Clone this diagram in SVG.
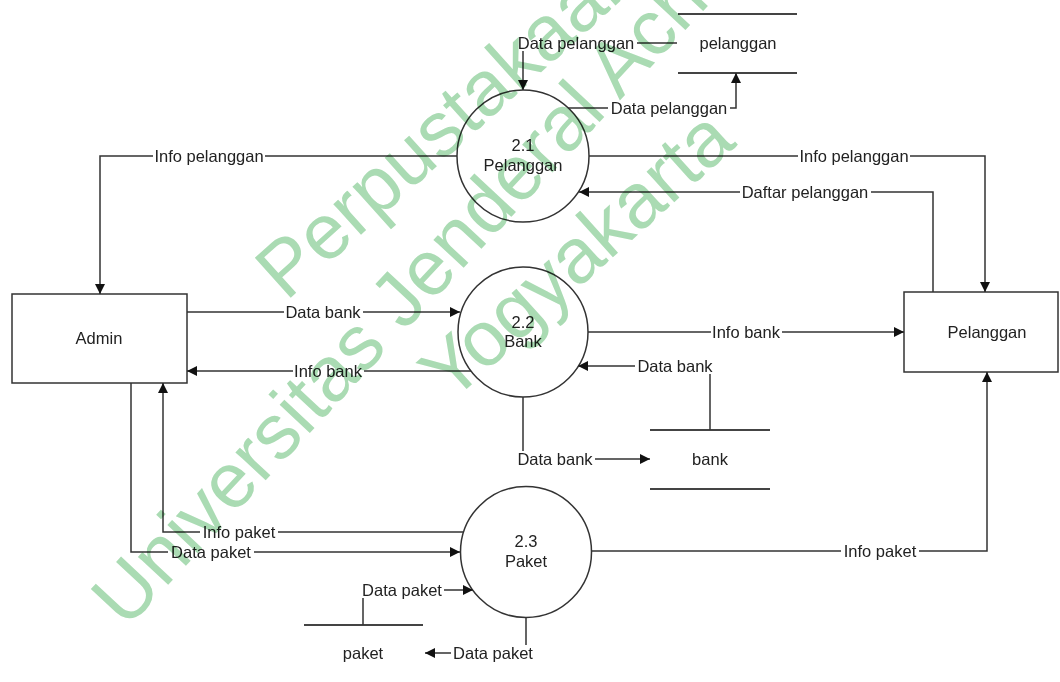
<svg xmlns="http://www.w3.org/2000/svg" width="1060" height="682" viewBox="0 0 1060 682">
  <defs>
    <style>
      .ln { fill: none; stroke: #333; stroke-width: 1.5; }
      .sh { fill: #fff; stroke: #333; stroke-width: 1.5; }
      .st { fill: none; stroke: #444; stroke-width: 2; }
      .bg { fill: #fff; }
      .lb { font-family: "Liberation Sans", Arial, sans-serif; font-size: 16.5px; fill: #222; text-anchor: middle; }
      .wm { font-family: "Liberation Sans", Arial, sans-serif; font-size: 78px; fill: #aadbb3; mix-blend-mode: multiply; }
    </style>
    <marker id="ah" viewBox="0 0 10 10" refX="10" refY="5" markerWidth="10" markerHeight="10" markerUnits="userSpaceOnUse" orient="auto">
      <path d="M0,0 L10,5 L0,10 z" fill="#111"/>
    </marker>
  </defs>

  <rect width="1060" height="682" fill="#fff"/>

  <!-- external entities -->
  <g id="admin">
    <rect class="sh" x="12" y="294" width="175" height="89"/>
    <text class="lb" x="99" y="344">Admin</text>
  </g>
  <g id="pelanggan-entity">
    <rect class="sh" x="904" y="292" width="154" height="80"/>
    <text class="lb" x="987" y="338">Pelanggan</text>
  </g>

  <!-- processes -->
  <g id="proc-2-1">
    <circle class="sh" cx="523" cy="156" r="66"/>
    <text class="lb" x="523" y="151">2.1</text>
    <text class="lb" x="523" y="171">Pelanggan</text>
  </g>
  <g id="proc-2-2">
    <circle class="sh" cx="523" cy="332" r="65"/>
    <text class="lb" x="523" y="328">2.2</text>
    <text class="lb" x="523" y="347">Bank</text>
  </g>
  <g id="proc-2-3">
    <circle class="sh" cx="526" cy="552" r="65.5"/>
    <text class="lb" x="526" y="547">2.3</text>
    <text class="lb" x="526" y="567">Paket</text>
  </g>

  <!-- data stores -->
  <g id="store-pelanggan">
    <line class="st" x1="678" y1="14" x2="797" y2="14"/>
    <line class="st" x1="678" y1="73" x2="797" y2="73"/>
    <text class="lb" x="738" y="49">pelanggan</text>
  </g>
  <g id="store-bank">
    <line class="st" x1="650" y1="430" x2="770" y2="430"/>
    <line class="st" x1="650" y1="489" x2="770" y2="489"/>
    <text class="lb" x="710" y="465">bank</text>
  </g>
  <g id="store-paket">
    <line class="st" x1="304" y1="625" x2="423" y2="625"/>
    <text class="lb" x="363" y="659">paket</text>
  </g>

  <!-- data flows -->
  <g id="connectors">
    <path class="ln" d="M457,156 H100 V294" marker-end="url(#ah)"/>
    <rect class="bg" x="153" y="148" width="112" height="16"/>
    <text class="lb" x="209" y="162">Info pelanggan</text>

    <path class="ln" d="M589,156 H985 V292" marker-end="url(#ah)"/>
    <rect class="bg" x="798" y="148" width="112" height="16"/>
    <text class="lb" x="854" y="162">Info pelanggan</text>

    <path class="ln" d="M933,292 V192 H579" marker-end="url(#ah)"/>
    <rect class="bg" x="740" y="184" width="131" height="16"/>
    <text class="lb" x="805" y="198">Daftar pelanggan</text>

    <path class="ln" d="M187,312 H460" marker-end="url(#ah)"/>
    <rect class="bg" x="284" y="304" width="79" height="16"/>
    <text class="lb" x="323" y="318">Data bank</text>

    <path class="ln" d="M471,371 H187" marker-end="url(#ah)"/>
    <rect class="bg" x="293" y="363" width="71" height="16"/>
    <text class="lb" x="328" y="377">Info bank</text>

    <path class="ln" d="M588,332 H904" marker-end="url(#ah)"/>
    <rect class="bg" x="711" y="324" width="71" height="16"/>
    <text class="lb" x="746" y="338">Info bank</text>

    <path class="ln" d="M710,430 V366 H578" marker-end="url(#ah)"/>
    <rect class="bg" x="635" y="358" width="80" height="16"/>
    <text class="lb" x="675" y="372">Data bank</text>

    <path class="ln" d="M523,397 V459 H650" marker-end="url(#ah)"/>
    <rect class="bg" x="515" y="451" width="80" height="16"/>
    <text class="lb" x="555" y="465">Data bank</text>

    <path class="ln" d="M591,551 H987 V372" marker-end="url(#ah)"/>
    <rect class="bg" x="841" y="543" width="78" height="16"/>
    <text class="lb" x="880" y="557">Info paket</text>

    <path class="ln" d="M131,383 V552 H460" marker-end="url(#ah)"/>
    <rect class="bg" x="168" y="544" width="86" height="16"/>
    <text class="lb" x="211" y="558">Data paket</text>

    <path class="ln" d="M464,532 H163 V383" marker-end="url(#ah)"/>
    <rect class="bg" x="200" y="524" width="78" height="16"/>
    <text class="lb" x="239" y="538">Info paket</text>

    <path class="ln" d="M363,625 V590 H473" marker-end="url(#ah)"/>
    <rect class="bg" x="360" y="582" width="84" height="16"/>
    <text class="lb" x="402" y="596">Data paket</text>

    <path class="ln" d="M526,618 V653 H425" marker-end="url(#ah)"/>
    <rect class="bg" x="451" y="645" width="84" height="16"/>
    <text class="lb" x="493" y="659">Data paket</text>

    <path class="ln" d="M677,43 H523 V90" marker-end="url(#ah)"/>
    <rect class="bg" x="515" y="35" width="122" height="16"/>
    <text class="lb" x="576" y="49">Data pelanggan</text>

    <path class="ln" d="M568,108 H736 V73" marker-end="url(#ah)"/>
    <rect class="bg" x="608" y="100" width="122" height="16"/>
    <text class="lb" x="669" y="114">Data pelanggan</text>
  </g>

  <!-- library stamp -->
  <g id="stamp">
    <text class="wm" transform="translate(286,302) rotate(-42)">Perpustakaan</text>
    <text class="wm" transform="translate(126,630) rotate(-47)">Universitas Jenderal Achmad Yani</text>
    <text class="wm" transform="translate(450,404) rotate(-42)">Yogyakarta</text>
  </g>
</svg>
